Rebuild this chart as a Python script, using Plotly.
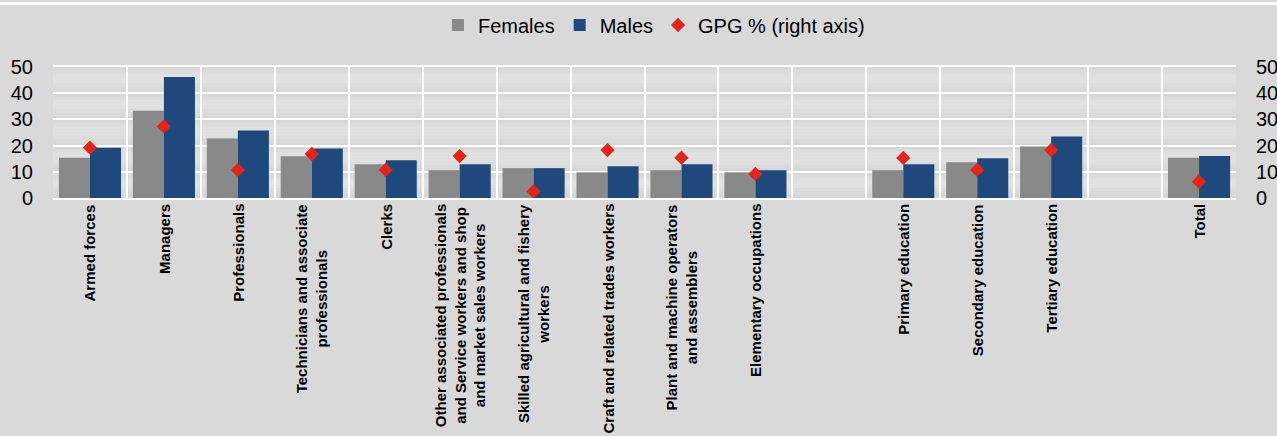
import plotly.graph_objects as go

# Occupation / education groups ("" marks an empty spacer slot)
categories = [
    "Armed forces",
    "Managers",
    "Professionals",
    "Technicians and associate<br>professionals",
    "Clerks",
    "Other associated professionals<br>and Service workers and shop<br>and market sales workers",
    "Skilled agricultural and fishery<br>workers",
    "Craft and related trades workers",
    "Plant and machine operators<br>and assemblers",
    "Elementary occupations",
    "",
    "Primary education",
    "Secondary education",
    "Tertiary education",
    "",
    "Total",
]

females = [15.4, 33.3, 22.7, 15.9, 12.9, 10.6, 11.4, 9.8, 10.6, 9.8, None, 10.6, 13.6, 19.7, None, 15.4]
males = [19.2, 46.2, 25.8, 18.9, 14.4, 12.9, 11.4, 12.1, 12.9, 10.6, None, 12.9, 15.2, 23.5, None, 16.0]
gpg = [19.2, 27.3, 10.7, 16.8, 10.7, 16.0, 2.5, 18.3, 15.4, 9.2, None, 15.3, 10.7, 18.3, None, 6.2]

y_ticks = [0, 10, 20, 30, 40, 50]

GREY = "#898989"
NAVY = "#1f497d"
RED = "#e2251b"
BG = "#d9d9d9"
FONT = "Liberation Sans, Arial, sans-serif"

xs = list(range(len(categories)))

fig = go.Figure()
fig.add_trace(go.Bar(x=xs, y=females, name="Females", marker=dict(color=GREY, line=dict(width=0))))
fig.add_trace(go.Bar(x=xs, y=males, name="Males", marker=dict(color=NAVY, line=dict(width=0))))
fig.add_trace(go.Scatter(
    x=xs, y=gpg, name="GPG % (right axis)", mode="markers", yaxis="y2",
    marker=dict(symbol="diamond", size=11, color=RED, line=dict(width=0)),
))

# Category labels, rotated and centred under each slot
annotations = []
for x, label in zip(xs, categories):
    if not label:
        continue
    annotations.append(dict(
        x=x, y=0, xref="x", yref="paper", text=label, showarrow=False,
        textangle=-90, xanchor="center", yanchor="top", align="center",
        yshift=-4, font=dict(family=FONT, size=15, color="#000000", weight="bold"),
    ))

shapes = []
# Soft vertical shading inside each gridline band of the plot area
profile = [0xd8, 0xdc, 0xe0, 0xe1, 0xe0, 0xdd, 0xda, 0xd7]
for lo, hi in zip(y_ticks[:-1], y_ticks[1:]):
    step = (hi - lo) / len(profile)
    for k, level in enumerate(profile):
        top = hi - k * step
        shapes.append(dict(
            type="rect", xref="paper", yref="y", x0=0, x1=1, y0=top - step, y1=top,
            fillcolor=f"#{level:02x}{level:02x}{level:02x}", line=dict(width=0), layer="below",
        ))

# Thin white rule across the very top of the page
rule_y = 1 + (67 - 3.5) / 131
shapes.append(dict(type="line", xref="paper", yref="paper", x0=-0.05, x1=1.05,
                   y0=rule_y, y1=rule_y, line=dict(color="#ffffff", width=2.5)))

n = len(categories)
axis_y = dict(
    range=[0, 50], tickvals=y_ticks, showgrid=True, gridcolor="#ffffff", gridwidth=2,
    zeroline=False, showline=False, ticks="", ticklabelstandoff=19,
    tickfont=dict(family=FONT, size=20, color="#000000"),
)

fig.update_layout(
    width=1277, height=436,
    margin=dict(l=53, r=41, t=67, b=238, pad=0, autoexpand=False),
    paper_bgcolor=BG, plot_bgcolor=BG,
    barmode="group", bargap=0.16, bargroupgap=0,
    font=dict(family=FONT, size=20, color="#000000"),
    xaxis=dict(
        range=[-0.5, n - 0.5], tickvals=[i - 0.5 for i in range(n + 1)],
        showticklabels=False, showgrid=True, gridcolor="#ffffff", gridwidth=2,
        zeroline=False, showline=True, linecolor="#ffffff", linewidth=2, mirror=True,
        ticks="",
    ),
    yaxis=dict(**axis_y),
    yaxis2=dict(**axis_y, overlaying="y", side="right"),
    legend=dict(
        orientation="h", x=0.508, xanchor="center", y=1 + (67 - 25) / 131, yanchor="middle",
        font=dict(family=FONT, size=20, color="#000000"), bgcolor="rgba(0,0,0,0)",
        itemwidth=30, traceorder="normal",
    ),
    annotations=annotations,
    shapes=shapes,
    showlegend=True,
)
fig.update_yaxes(showline=True, linecolor="#ffffff", linewidth=2, selector=dict(side="left"))

fig.write_html("out.html")
